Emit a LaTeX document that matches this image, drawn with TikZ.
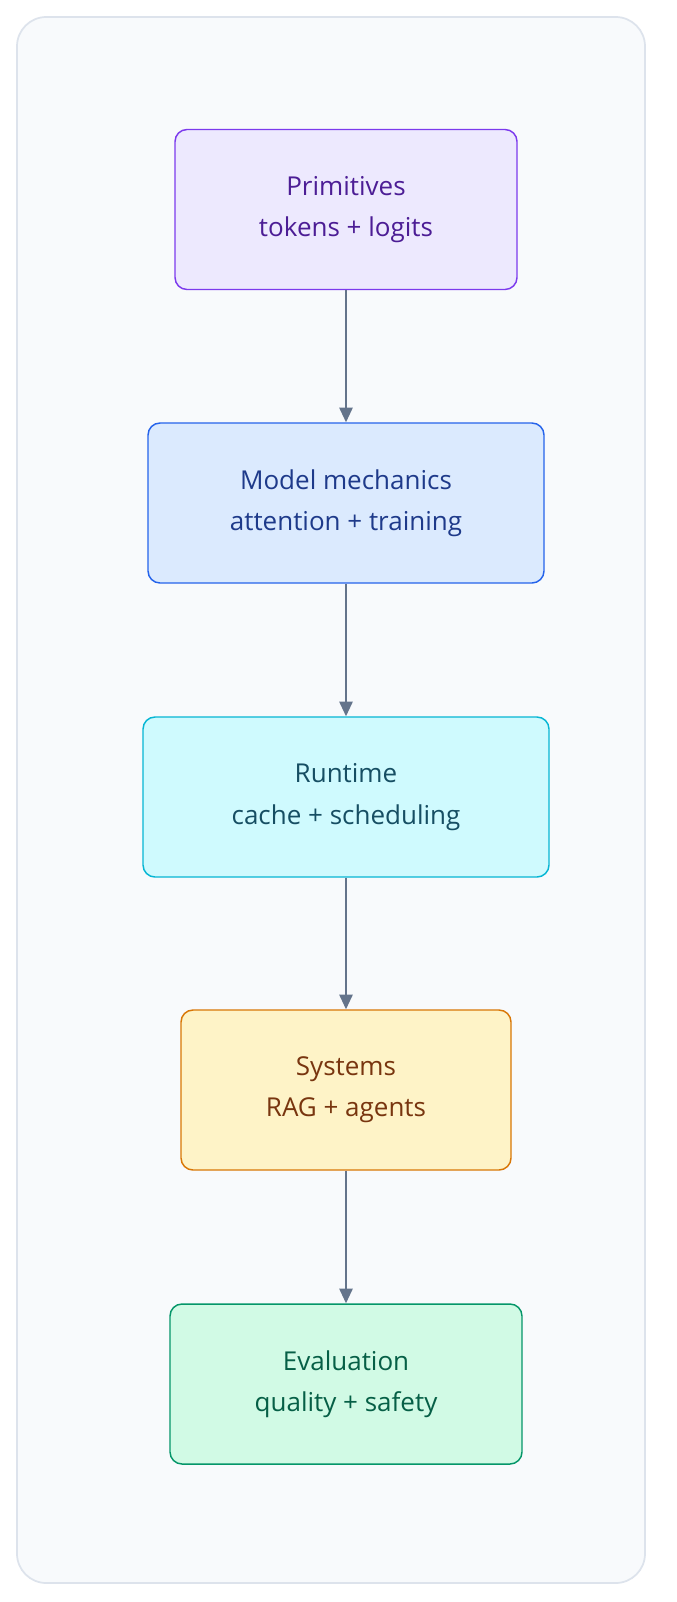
\documentclass[tikz,border=0pt]{standalone}
\usepackage{fontspec}
\setmainfont{Open Sans}
\usetikzlibrary{arrows.meta,positioning}
\definecolor{frameline}{HTML}{DDE3EC}
\definecolor{framefill}{HTML}{F8FAFC}
\definecolor{arrowgray}{HTML}{64748B}
\definecolor{primfill}{HTML}{EDE9FE}\definecolor{primline}{HTML}{7C3AED}\definecolor{primtext}{HTML}{4C1D95}
\definecolor{modfill}{HTML}{DBEAFE}\definecolor{modline}{HTML}{2563EB}\definecolor{modtext}{HTML}{1E3A8A}
\definecolor{runfill}{HTML}{CFFAFE}\definecolor{runline}{HTML}{06B6D4}\definecolor{runtext}{HTML}{164E63}
\definecolor{sysfill}{HTML}{FEF3C7}\definecolor{sysline}{HTML}{D97706}\definecolor{systext}{HTML}{78350F}
\definecolor{evalfill}{HTML}{D1FAE5}\definecolor{evalline}{HTML}{059669}\definecolor{evaltext}{HTML}{065F46}
\tikzset{
    stage/.style={
        draw,
        rounded corners=9pt,
        line width=1.1pt,
        minimum height=120pt,
        align=center,
        font=\fontsize{19.5}{31}\selectfont
    },
    flow/.style={
        draw=arrowgray,
        line width=1.3pt,
        -{Triangle[length=11pt, width=10pt]}
    }
}
\begin{document}
\begin{tikzpicture}[x=0.75pt,y=-0.75pt]
  % page and frame
  \useasboundingbox (0,0) rectangle (676,1602);
  \fill[white] (0,0) rectangle (676,1602);
  \draw[frameline, fill=framefill, line width=1.3pt, rounded corners=22pt] (17,17) rectangle (645,1583);

  % stages
  \node[stage, fill=primfill, draw=primline, text=primtext, minimum width=256.5pt] (prim) at (346,209.5) {Primitives\\tokens + logits};
  \node[stage, fill=modfill, draw=modline, text=modtext, minimum width=297pt] (model) at (346,503) {Model mechanics\\attention + training};
  \node[stage, fill=runfill, draw=runline, text=runtext, minimum width=304.5pt] (run) at (346,797) {Runtime\\cache + scheduling};
  \node[stage, fill=sysfill, draw=sysline, text=systext, minimum width=247.5pt] (sys) at (346,1090) {Systems\\RAG + agents};
  \node[stage, fill=evalfill, draw=evalline, text=evaltext, minimum width=264pt] (eval) at (346,1384) {Evaluation\\quality + safety};

  % connectors
  \draw[flow] (prim) -- (model);
  \draw[flow] (model) -- (run);
  \draw[flow] (run) -- (sys);
  \draw[flow] (sys) -- (eval);
\end{tikzpicture}
\end{document}
